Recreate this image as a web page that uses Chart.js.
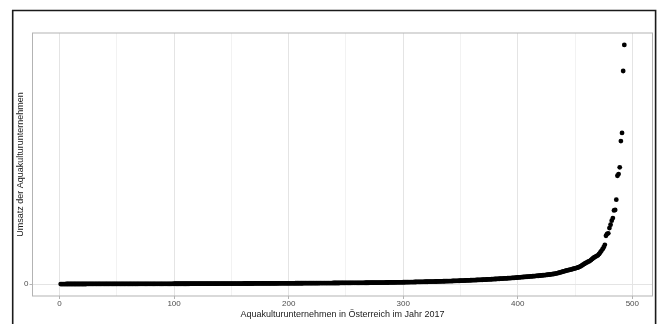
<!DOCTYPE html>
<html><head><meta charset="utf-8">
<script src="https://cdn.jsdelivr.net/npm/chart.js@4"></script>
<style>html,body{margin:0;padding:0;background:#fff;}canvas{display:block;}</style>
</head><body>
<canvas id="c" width="657" height="324"></canvas>
<script>
// Umsatz (relative units), sorted ascending, one value per enterprise
const umsatz = [
0,0,0,0,0,0.01,0.01,0.01,0.01,0.01,
0.01,0.01,0.01,0.01,0.02,0.02,0.02,0.02,0.02,0.02,
0.02,0.02,0.02,0.03,0.03,0.03,0.03,0.03,0.03,0.03,
0.03,0.03,0.04,0.04,0.04,0.04,0.04,0.04,0.04,0.04,
0.04,0.05,0.05,0.05,0.05,0.05,0.05,0.05,0.05,0.05,
0.05,0.06,0.06,0.06,0.06,0.06,0.06,0.06,0.06,0.06,
0.07,0.07,0.07,0.07,0.07,0.07,0.07,0.07,0.08,0.08,
0.08,0.08,0.08,0.08,0.08,0.08,0.08,0.09,0.09,0.09,
0.09,0.09,0.09,0.09,0.09,0.10,0.10,0.10,0.10,0.10,
0.10,0.10,0.11,0.11,0.11,0.11,0.11,0.11,0.11,0.12,
0.12,0.12,0.12,0.12,0.12,0.12,0.13,0.13,0.13,0.13,
0.13,0.13,0.13,0.14,0.14,0.14,0.14,0.14,0.14,0.14,
0.15,0.15,0.15,0.15,0.15,0.15,0.16,0.16,0.16,0.16,
0.16,0.16,0.16,0.17,0.17,0.17,0.17,0.17,0.17,0.18,
0.18,0.18,0.18,0.18,0.18,0.19,0.19,0.19,0.19,0.19,
0.20,0.20,0.20,0.20,0.20,0.21,0.21,0.21,0.21,0.21,
0.22,0.22,0.22,0.22,0.22,0.23,0.23,0.23,0.23,0.24,
0.24,0.24,0.24,0.24,0.25,0.25,0.25,0.25,0.26,0.26,
0.26,0.26,0.27,0.27,0.27,0.27,0.28,0.28,0.28,0.28,
0.29,0.29,0.29,0.29,0.30,0.30,0.30,0.30,0.31,0.31,
0.31,0.31,0.32,0.32,0.32,0.33,0.33,0.33,0.33,0.34,
0.34,0.34,0.35,0.35,0.35,0.35,0.36,0.36,0.36,0.37,
0.37,0.37,0.37,0.38,0.38,0.38,0.39,0.39,0.39,0.40,
0.40,0.40,0.41,0.41,0.41,0.42,0.42,0.42,0.43,0.43,
0.43,0.44,0.44,0.44,0.45,0.45,0.45,0.46,0.46,0.47,
0.47,0.47,0.48,0.48,0.49,0.49,0.49,0.50,0.50,0.51,
0.51,0.52,0.52,0.52,0.53,0.53,0.54,0.54,0.55,0.55,
0.56,0.56,0.57,0.57,0.58,0.58,0.59,0.59,0.60,0.61,
0.61,0.62,0.62,0.63,0.64,0.64,0.65,0.66,0.66,0.67,
0.68,0.68,0.69,0.70,0.71,0.71,0.72,0.73,0.74,0.75,
0.76,0.77,0.78,0.79,0.80,0.81,0.82,0.83,0.84,0.85,
0.86,0.87,0.88,0.89,0.90,0.91,0.92,0.94,0.95,0.96,
0.97,0.98,1.00,1.01,1.02,1.03,1.05,1.06,1.07,1.09,
1.10,1.11,1.13,1.14,1.16,1.17,1.19,1.20,1.22,1.23,
1.25,1.26,1.28,1.30,1.31,1.33,1.35,1.36,1.38,1.40,
1.42,1.44,1.46,1.48,1.50,1.52,1.54,1.56,1.58,1.60,
1.62,1.64,1.66,1.69,1.71,1.73,1.76,1.78,1.80,1.83,
1.85,1.88,1.90,1.93,1.96,1.98,2.01,2.04,2.07,2.10,
2.12,2.15,2.18,2.21,2.24,2.27,2.30,2.33,2.36,2.39,
2.42,2.45,2.48,2.51,2.54,2.58,2.62,2.66,2.70,2.74,
2.78,2.82,2.86,2.90,2.94,2.98,3.02,3.06,3.10,3.14,
3.18,3.22,3.26,3.30,3.34,3.38,3.42,3.47,3.52,3.57,
3.62,3.67,3.72,3.77,3.82,3.88,3.94,4.00,4.06,4.12,
4.20,4.28,4.37,4.47,4.58,4.72,4.88,5.02,5.15,5.28,
5.42,5.56,5.68,5.80,5.92,6.04,6.16,6.30,6.44,6.57,
6.70,6.86,7.02,7.20,7.48,7.78,8.10,8.40,8.70,9.00,
9.22,9.45,9.70,10.1,10.5,10.9,11.2,11.5,11.8,12.0,
12.6,13.2,13.9,14.6,15.4,16.4,20.2,21.0,21.2,23.4,
24.8,26.5,27.6,30.8,31.0,35.3,45.3,46.0,48.8,59.8,
63.2,89.1,100
];
const xMajorTicks = [0,100,200,300,400,500];
const xMinorTicks = [50,150,250,350,450];
const yTicks = [0];
const xTitle = 'Aquakulturunternehmen in Österreich im Jahr 2017';
const yTitle = 'Umsatz der Aquakulturunternehmen';

const FONT = "'Liberation Sans', Arial, Helvetica, sans-serif";
const n = umsatz.length;
const points = umsatz.map((v, i) => ({x: i + 1, y: v}));
const yMaxV = Math.max(...umsatz), yMinV = Math.min(...umsatz);
const xPad = (n - 1) * 0.05, yPad = (yMaxV - yMinV) * 0.05;
const isMajorX = v => xMajorTicks.includes(v);

const framePlugin = {
  id: 'frame',
  beforeDraw(chart) {
    const c = chart.ctx;
    c.save();
    c.fillStyle = '#fff';
    c.fillRect(0, 0, chart.width, chart.height);
    c.strokeStyle = '#1a1a1a';
    c.lineWidth = 1.6;
    c.beginPath();
    c.moveTo(12.7, 330);
    c.lineTo(12.7, 10.5);
    c.lineTo(655.6, 10.5);
    c.lineTo(655.6, 330);
    c.stroke();
    c.restore();
  },
  afterDatasetsDraw(chart) {
    const a = chart.chartArea, c = chart.ctx;
    c.save();
    c.strokeStyle = '#b3b3b3';
    c.lineWidth = 1;
    c.strokeRect(a.left, a.top, a.right - a.left, a.bottom - a.top);
    c.restore();
  }
};

new Chart(document.getElementById('c'), {
  type: 'scatter',
  data: {datasets: [{
    data: points,
    backgroundColor: '#000',
    borderWidth: 0,
    pointRadius: 2.4,
    pointHoverRadius: 2.4
  }]},
  options: {
    responsive: false,
    animation: false,
    devicePixelRatio: 1,
    layout: {padding: {left: 0, top: 33, right: 4.5, bottom: 0}},
    plugins: {legend: {display: false}, tooltip: {enabled: false}},
    scales: {
      x: {
        type: 'linear',
        min: 1 - xPad,
        max: n + xPad,
        afterBuildTicks: s => { s.ticks = [...xMajorTicks, ...xMinorTicks].sort((a, b) => a - b).map(v => ({value: v})); },
        afterFit: s => { s.height = 28; },
        border: {display: false},
        grid: {
          color: ctx => isMajorX(ctx.tick.value) ? '#e4e4e4' : '#f2f2f2',
          lineWidth: 1,
          tickLength: 3,
          tickColor: ctx => isMajorX(ctx.tick.value) ? '#b3b3b3' : 'rgba(0,0,0,0)'
        },
        ticks: {
          autoSkip: false, maxRotation: 0, padding: 0,
          color: '#4d4d4d',
          font: {family: FONT, size: 8},
          callback: v => isMajorX(v) ? String(v) : ''
        },
        title: {
          display: true, text: xTitle, color: '#1a1a1a',
          font: {family: FONT, size: 9},
          padding: {top: 0, bottom: 4}
        }
      },
      y: {
        type: 'linear',
        min: yMinV - yPad,
        max: yMaxV + yPad,
        afterBuildTicks: s => { s.ticks = yTicks.map(v => ({value: v})); },
        afterFit: s => { s.width = 32.5; },
        border: {display: false},
        grid: {color: '#e4e4e4', lineWidth: 1, tickLength: 3, tickColor: '#b3b3b3'},
        ticks: {
          padding: 1, color: '#4d4d4d',
          font: {family: FONT, size: 8},
          callback: v => String(v)
        },
        title: {
          display: true, text: yTitle, color: '#1a1a1a',
          font: {family: FONT, size: 9},
          padding: {top: 15, bottom: 0}
        }
      }
    }
  },
  plugins: [framePlugin]
});
</script>
</body></html>
